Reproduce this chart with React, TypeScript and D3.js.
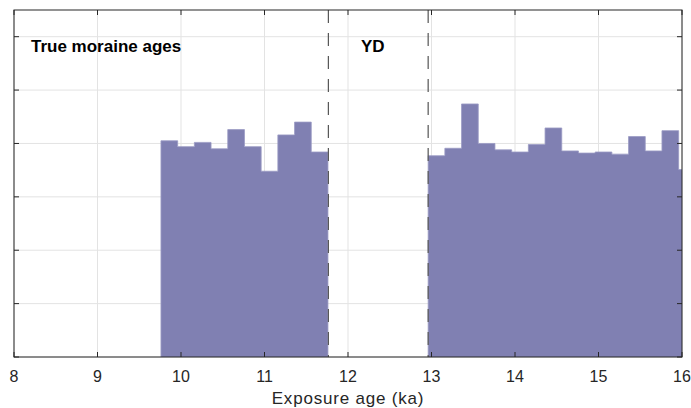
import React from "react";
import * as d3 from "d3";

// bin width 0.2 ka, two clusters of simulated exposure ages
const binWidth = 0.2;
const holoceneStart = 9.76;
const holoceneCounts = [4.05, 3.94, 4.02, 3.9, 4.26, 3.94, 3.48, 4.16, 4.4, 3.84];
const olderStart = 12.96;
const olderCounts = [3.77, 3.91, 4.74, 4.0, 3.88, 3.84, 3.98, 4.29, 3.86, 3.82, 3.84, 3.8, 4.13, 3.86, 4.24, 3.51];
const ydBounds = [11.765, 12.96];
const xTicks = [8, 9, 10, 11, 12, 13, 14, 15, 16];
const yTicks = [0, 1, 2, 3, 4, 5, 6];

const W = 691;
const H = 408;
const margin = { top: 10, right: 9, bottom: 51, left: 14 };

const App = () => {
  const x = d3.scaleLinear().domain([8, 16]).range([margin.left, W - margin.right]);
  const y = d3.scaleLinear().domain([0, 6.5]).range([H - margin.bottom, margin.top]);

  // step outline of each cluster, like MATLAB's histogram
  const clusterPath = (start: number, counts: number[]) => {
    const pts: [number, number][] = [[start, 0]];
    counts.forEach((v, i) => {
      pts.push([start + i * binWidth, v]);
      pts.push([start + (i + 1) * binWidth, v]);
    });
    pts.push([start + counts.length * binWidth, 0]);
    return d3.line()(pts.map(([a, b]) => [x(a), y(b)])) || "";
  };

  const x0 = x(8), x1 = x(16), y0 = y(0), y1 = y(6.5);
  const font = "'Liberation Sans', Arial, Helvetica, sans-serif";

  return (
    <svg width={W} height={H} style={{ position: "absolute", left: 0, top: 0 }} fontFamily={font}>
      <defs>
        <clipPath id="plot">
          <rect x={x0} y={y1} width={x1 - x0} height={y0 - y1} />
        </clipPath>
      </defs>
      <rect width={W} height={H} fill="#fff" />
      {/* grid */}
      <g stroke="#e3e3e3" strokeWidth={1}>
        {xTicks.map((t) => (
          <line key={"gx" + t} x1={x(t)} x2={x(t)} y1={y1} y2={y0} />
        ))}
        {yTicks.map((t) => (
          <line key={"gy" + t} x1={x0} x2={x1} y1={y(t)} y2={y(t)} />
        ))}
      </g>
      {/* bars */}
      <g clipPath="url(#plot)" fill="#8080b2" stroke="#9a9ac4" strokeWidth={0.8}>
        <path d={clusterPath(holoceneStart, holoceneCounts)} />
        <path d={clusterPath(olderStart, olderCounts)} />
      </g>
      {/* YD bounds */}
      <g stroke="#555" strokeWidth={1.2} strokeDasharray="13,10">
        {ydBounds.map((t) => (
          <line key={t} x1={x(t)} x2={x(t)} y1={y1} y2={y0} />
        ))}
      </g>
      {/* axes box and ticks */}
      <g stroke="#262626" strokeWidth={1}>
        <rect x={x0} y={y1} width={x1 - x0} height={y0 - y1} fill="none" />
        {xTicks.map((t) => (
          <g key={"tx" + t}>
            <line x1={x(t)} x2={x(t)} y1={y0} y2={y0 - 5} />
            <line x1={x(t)} x2={x(t)} y1={y1} y2={y1 + 5} />
          </g>
        ))}
        {yTicks.map((t) => (
          <g key={"ty" + t}>
            <line x1={x0} x2={x0 + 5} y1={y(t)} y2={y(t)} />
            <line x1={x1} x2={x1 - 5} y1={y(t)} y2={y(t)} />
          </g>
        ))}
      </g>
      <g fontSize={16} fill="#262626" textAnchor="middle">
        {xTicks.map((t) => (
          <text key={"lx" + t} x={x(t)} y={y0 + 24.5}>
            {t}
          </text>
        ))}
        <text x={(x0 + x1) / 2} y={H - 4} fontSize={17} letterSpacing={0.8}>
          Exposure age (ka)
        </text>
      </g>
      <g fontSize={17} fontWeight="bold" fill="#000">
        <text x={31} y={51.5}>
          True moraine ages
        </text>
        <text x={361} y={51.5}>
          YD
        </text>
      </g>
    </svg>
  );
};

export default App;
